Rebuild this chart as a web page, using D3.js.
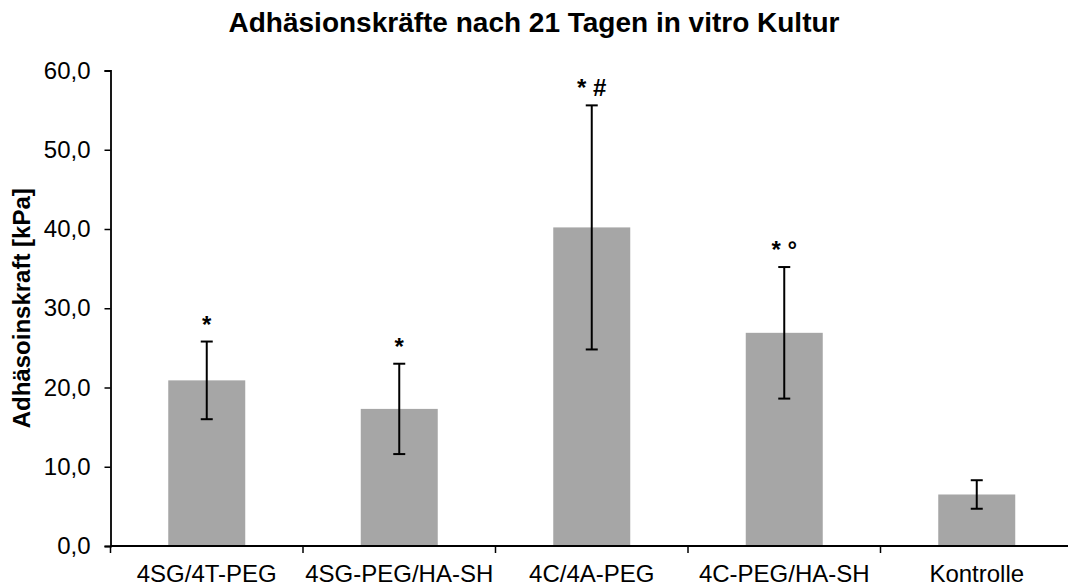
<!DOCTYPE html>
<html>
<head>
<meta charset="utf-8">
<script src="https://cdn.jsdelivr.net/npm/d3@7"></script>
<style>
body { margin:0; background:#fff; }
svg { font-family: "Liberation Sans", Arial, sans-serif; }
.title { font-weight:bold; font-size:28px; }
.label { font-weight:bold; font-size:24px; }
.tick text { font-size:24px; fill:#000; }
.note { font-weight:bold; font-size:24px; }
</style>
</head>
<body>
<svg></svg>
<script>
var categories = ["4SG/4T-PEG", "4SG-PEG/HA-SH", "4C/4A-PEG", "4C-PEG/HA-SH", "Kontrolle"];
var means = [20.9, 17.3, 40.2, 26.9, 6.5];
var errors = [4.9, 5.7, 15.4, 8.3, 1.8];
var notes = ["*", "*", "* #", "* °", ""];
var yTicks = [0, 10, 20, 30, 40, 50, 60];

var rows = categories.map(function(c, i)
{
	return {name:c, mean:means[i], err:errors[i], note:notes[i]}
})

//----------bars + error bars-------------
var drawPlot = function(rows, target, xScale, yScale)
{
	target.selectAll("rect")
	.data(rows)
	.enter()
	.append("rect")
	.attr("x", function(d) { return xScale(d.name) })
	.attr("width", xScale.bandwidth())
	.attr("y", function(d) { return yScale(d.mean) })
	.attr("height", function(d) { return yScale(0) - yScale(d.mean) })
	.attr("fill", "#a6a6a6")

	var err = target.selectAll("g.err")
	.data(rows)
	.enter()
	.append("g")
	.classed("err", true)
	.attr("stroke", "#000")
	.attr("stroke-width", 2)

	var cx = function(d) { return xScale(d.name) + xScale.bandwidth()/2 }
	err.append("line")
	.attr("x1", cx).attr("x2", cx)
	.attr("y1", function(d) { return yScale(d.mean + d.err) })
	.attr("y2", function(d) { return yScale(d.mean - d.err) })
	err.append("line")
	.attr("x1", function(d) { return cx(d) - 6 }).attr("x2", function(d) { return cx(d) + 6 })
	.attr("y1", function(d) { return yScale(d.mean + d.err) })
	.attr("y2", function(d) { return yScale(d.mean + d.err) })
	err.append("line")
	.attr("x1", function(d) { return cx(d) - 6 }).attr("x2", function(d) { return cx(d) + 6 })
	.attr("y1", function(d) { return yScale(d.mean - d.err) })
	.attr("y2", function(d) { return yScale(d.mean - d.err) })

	target.selectAll("text.note")
	.data(rows)
	.enter()
	.append("text")
	.classed("note", true)
	.attr("text-anchor", "middle")
	.attr("x", cx)
	.attr("y", function(d) { return yScale(d.mean + d.err) - 9 })
	.text(function(d) { return d.note })
}

var drawAxis = function(svg, xScale, yScale, screen)
{
	var yAxis = d3.axisLeft(yScale)
	.tickValues(yTicks)
	.tickSize(6)
	.tickPadding(14)
	.tickFormat(function(v) { return d3.format(".1f")(v).replace(".", ",") })
	var gy = svg.append("g")
	.attr("transform", "translate(" + xScale.range()[0] + ",0)")
	.call(yAxis)

	var xAxis = d3.axisBottom(xScale).tickSize(0).tickPadding(19)
	var gx = svg.append("g")
	.attr("transform", "translate(0," + yScale(0) + ")")
	.call(xAxis)

	// ticks between the categories, as excel draws them
	var step = xScale.step()
	var edges = d3.range(categories.length).map(function(i) { return xScale.range()[0] + i*step })
	gx.selectAll("line.sep")
	.data(edges)
	.enter()
	.append("line")
	.classed("sep", true)
	.attr("x1", function(d) { return d }).attr("x2", function(d) { return d })
	.attr("y1", 0).attr("y2", 7)
	.attr("stroke", "#000").attr("stroke-width", 1.5)

	gx.select(".domain").attr("d", "M" + xScale.range()[0] + ",0H" + screen.width)
	svg.selectAll(".domain").attr("stroke", "#000").attr("stroke-width", 1.8)
	gy.selectAll(".tick line").attr("stroke", "#000").attr("stroke-width", 1.5)
	gx.selectAll(".tick text").attr("dy", "0.71em")
}

var drawLabels = function(svg, screen, yScale)
{
	svg.append("text")
	.classed("title", true)
	.attr("text-anchor", "middle")
	.attr("x", screen.width/2)
	.attr("y", 32)
	.text("Adhäsionskräfte nach 21 Tagen in vitro Kultur")

	svg.append("text")
	.classed("label", true)
	.attr("text-anchor", "middle")
	.attr("transform", "translate(30," + ((yScale(0) + yScale(60))/2) + ") rotate(-90)")
	.text("Adhäsoinskraft [kPa]")
}

var initgraph = function(rows)
{
	var screen = {width:1068, height:588}
	var svg = d3.select("svg")
	.attr("width", screen.width)
	.attr("height", screen.height)

	var xScale = d3.scaleBand()
	.domain(categories)
	.range([110.5, 1073])
	.paddingInner(0.6)
	.paddingOuter(0.3)
	var yScale = d3.scaleLinear()
	.domain([0, 60])
	.range([546, 70.5])

	var target = svg.append("g")
	drawPlot(rows, target, xScale, yScale)
	drawAxis(svg, xScale, yScale, screen)
	drawLabels(svg, screen, yScale)
}

initgraph(rows)
</script>
</body>
</html>
